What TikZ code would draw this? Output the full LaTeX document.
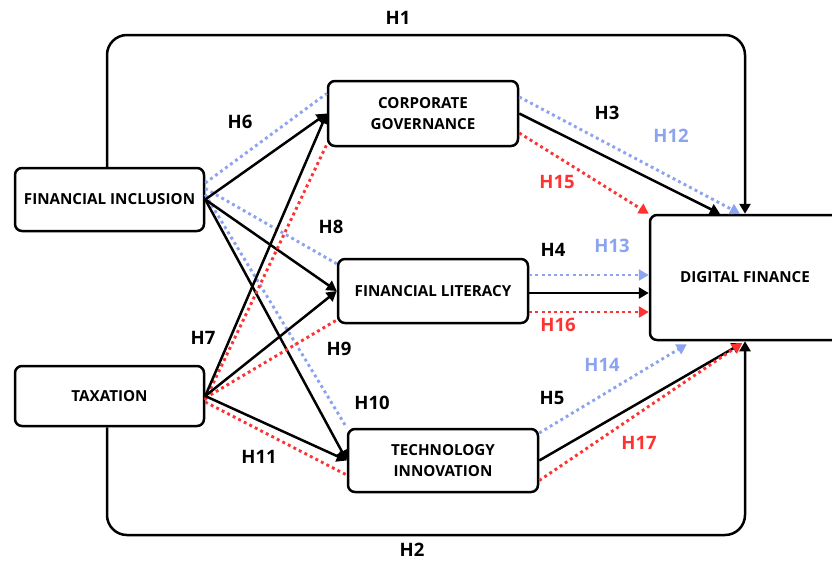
\documentclass[tikz,border=0pt]{standalone}
\usepackage{fontspec}
\setmainfont{Open Sans}
\usetikzlibrary{arrows.meta}
\definecolor{hblue}{RGB}{140,163,240}
\definecolor{hred}{RGB}{255,50,50}
\begin{document}
\begin{tikzpicture}[x=1pt,y=-1pt,
  box/.style={draw, line width=2.5pt, rounded corners=7pt, fill=white,
    font=\fontsize{15.2}{21}\selectfont\bfseries, align=center, inner sep=0pt},
  blk/.style={line width=2.5pt, -{Triangle[length=10pt,width=11pt]}},
  blkline/.style={line width=2.5pt},
  bdot/.style={hblue, line width=2.9pt, dash pattern=on 2.9pt off 3.3pt},
  rdot/.style={hred, line width=2.9pt, dash pattern=on 2.9pt off 3.3pt},
  tip/.style={-{Triangle[length=10pt,width=11pt]}},
  lab/.style={font=\fontsize{18.5}{18.5}\selectfont\bfseries}]
\useasboundingbox (0,0) rectangle (832,563);
\fill[white] (0,0) rectangle (832,563);

% boxes
\node[box, minimum width=189pt, minimum height=63pt] (fi) at (109.5,199.5) {FINANCIAL INCLUSION};
\node[box, minimum width=189pt, minimum height=60pt] (tax) at (109.5,396) {TAXATION};
\node[box, minimum width=190pt, minimum height=65pt] (cg) at (423,113.5) {CORPORATE\\GOVERNANCE};
\node[box, minimum width=190pt, minimum height=64pt] (fl) at (433,291) {FINANCIAL LITERACY};
\node[box, minimum width=190pt, minimum height=63pt] (ti) at (443,460.5) {TECHNOLOGY\\INNOVATION};
\node[box, minimum width=190pt, minimum height=125pt] (df) at (745,277.5) {DIGITAL FINANCE};

% outer loops
\coordinate (top) at (400,35);
\coordinate (bot) at (400,535);
\draw[blkline, rounded corners=20pt, tip] ([xshift=-2.5pt]fi.north) |- (top) -| (df.north);
\draw[blkline, rounded corners=20pt, tip] ([xshift=-2.5pt]tax.south) |- (bot) -| (df.south);

% left side: financial inclusion
\draw[bdot] ([yshift=16.5pt]fi.east) -- ([yshift=20pt]cg.west);
\draw[bdot] ([yshift=11pt]fi.east) -- ([yshift=-6pt]fl.north west);
\draw[bdot] ([yshift=5pt]fi.east) -- (ti.north west);
\draw[blk] (fi.east) -- (cg.west);
\draw[blk] (fi.east) -- (fl.west);
\draw[blk] (fi.east) -- (ti.west);

% left side: taxation
\draw[rdot] ([yshift=-4pt]tax.east) -- ([yshift=-31pt]cg.west);
\draw[rdot] ([yshift=-2pt]tax.east) -- ([yshift=-29pt]fl.west);
\draw[rdot] ([yshift=-6pt]tax.east) -- ([yshift=-14.5pt]ti.west);
\draw[blk] (tax.east) -- (cg.west);
\draw[blk] (tax.east) -- (fl.west);
\draw[blk] (tax.east) -- (ti.west);

% right side: corporate governance
\draw[bdot, tip] ([yshift=16.5pt]cg.east) -- ([xshift=-5pt]df.north);
\draw[rdot, tip] ([yshift=-19.5pt]cg.east) -- (df.north west);
\draw[blk] (cg.east) -- ([xshift=-25pt]df.north);

% right side: financial literacy
\draw[bdot, tip] ([yshift=16pt]fl.east) -- ([yshift=2.5pt]df.west);
\draw[blk] ([yshift=-2pt]fl.east) -- ([yshift=-15.5pt]df.west);
\draw[rdot, tip] ([yshift=-21pt]fl.east) -- ([yshift=-34.5pt]df.west);

% right side: technology innovation
\draw[bdot, tip] ([yshift=27.5pt]ti.east) -- ([xshift=38pt,yshift=-3pt]df.south west);
\draw[blk] (ti.east) -- ([xshift=-3pt,yshift=-2pt]df.south);
\draw[rdot, tip] ([yshift=-20pt]ti.east) -- ([xshift=-3pt,yshift=-2pt]df.south);

% labels
\node[lab] (h1) at (398,18) {H1};
\node[lab] (h2) at (412,550) {H2};
\node[lab] (h3) at (607,113) {H3};
\node[lab] (h4) at (553,250) {H4};
\node[lab] (h5) at (552,398) {H5};
\node[lab] (h6) at (240,122) {H6};
\node[lab] (h7) at (203,338) {H7};
\node[lab] (h8) at (331,227) {H8};
\node[lab] (h9) at (339,349) {H9};
\node[lab] (h10) at (372,403) {H10};
\node[lab] (h11) at (259,457) {H11};
\node[lab, hblue] (h12) at (671,136) {H12};
\node[lab, hblue] (h13) at (612,246) {H13};
\node[lab, hblue] (h14) at (602,365) {H14};
\node[lab, hred] (h15) at (557,182) {H15};
\node[lab, hred] (h16) at (558,325) {H16};
\node[lab, hred] (h17) at (639,443) {H17};
\end{tikzpicture}
\end{document}
